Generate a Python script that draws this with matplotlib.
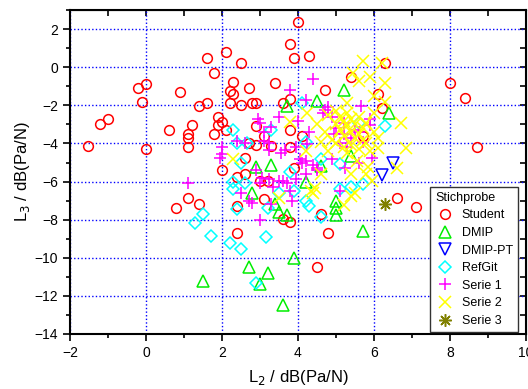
import matplotlib.pyplot as plt
from matplotlib.ticker import MultipleLocator

plt.rcParams['font.family'] = ['Liberation Sans', 'DejaVu Sans']

# Student (red circles)
student_x = [-1.53, -1.21, -1.0, -0.21, 0.0, -0.1, 0.0, 0.9, 0.6, 1.2, 1.1, 1.1, 1.1,
             1.4, 1.6, 1.6, 1.8, 2.1, 2.5, 2.3, 2.2, 2.3, 2.2, 2.7, 2.5, 2.8, 2.9,
             1.9, 2.0, 1.9, 2.1, 1.8, 2.9, 2.9, 2.7, 3.1, 3.3, 2.6, 2.6, 2.4, 2.0,
             3.0, 3.2, 3.1, 3.4, 3.8, 4.0, 3.9, 4.3, 4.7, 3.8, 3.6, 3.8, 4.1, 3.8,
             3.9, 5.4, 6.3, 6.1, 6.2, 5.7, 8.0, 8.4, 8.7, 6.6, 7.1, 3.6, 3.8, 4.6,
             4.8, 4.5, 0.8, 1.1, 1.4, 2.4, 2.4]
student_y = [-4.15, -3.0, -2.7, -1.1, -0.9, -1.8, -4.3, -1.3, -3.3, -3.05, -3.7, -4.2, -3.5,
             -2.05, -1.85, 0.5, -0.3, 0.8, 0.2, -0.75, -1.25, -1.4, -1.85, -1.1, -2.0, -1.9, -1.9,
             -2.6, -2.85, -3.05, -3.3, -3.5, -3.1, -4.1, -3.95, -3.6, -4.15, -4.75, -5.6, -5.75, -5.4,
             -5.95, -5.95, -6.9, -0.85, 1.2, 2.35, 0.5, 0.6, -1.2, -1.65, -1.9, -3.3, -3.6, -4.2,
             -5.3, -0.5, 0.25, -1.4, -2.15, -3.6, -0.85, -1.6, -4.2, -6.85, -7.35, -7.95, -8.1, -7.7,
             -8.7, -10.5, -7.4, -6.85, -7.2, -8.7, -7.3]

# DMIP (green triangles)
dmip_x = [5.2, 4.5, 3.7, 6.4, 5.4, 3.3, 2.9, 4.6, 4.2, 2.8, 5.0, 5.0, 5.0, 3.7, 3.5, 3.4,
          5.7, 3.9, 2.7, 3.2, 3.0, 3.6, 1.5]
dmip_y = [-1.2, -1.75, -2.05, -2.4, -4.65, -5.15, -5.25, -5.2, -6.0, -6.6, -7.0, -7.4, -7.75,
          -7.75, -7.6, -7.2, -8.6, -10.0, -10.5, -10.8, -11.4, -12.5, -11.2]

# DMIP-PT (blue down triangles)
dmippt_x = [6.5, 6.2]
dmippt_y = [-5.0, -5.65]

# RefGit (cyan diamonds)
refgit_x = [2.3, 2.4, 2.65, 2.5, 2.3, 2.6, 2.3, 4.1, 6.3, 5.6, 4.2, 3.3, 5.1, 3.8, 5.7, 3.5,
            3.9, 5.1, 4.2, 4.3, 4.6, 3.15, 1.3, 1.5, 1.7, 2.2, 2.5, 2.4, 2.9, 3.2, 4.6, 5.4]
refgit_y = [-3.3, -3.95, -4.0, -5.0, -6.0, -6.1, -6.4, -1.85, -3.1, -2.9, -3.9, -3.3, -5.1,
            -5.5, -6.15, -6.6, -6.5, -6.4, -7.0, -7.3, -7.85, -8.9, -8.15, -7.7, -8.85, -9.2,
            -9.55, -7.45, -11.3, -7.4, -4.8, -6.3]

# Serie 1 (magenta plus)
serie1_x = [2.95, 2.4, 2.0, 1.95, 2.0, 1.1, 2.5, 4.4, 3.8, 4.2, 4.7, 3.5, 3.3, 4.0, 4.3,
            5.65, 5.9, 5.9, 5.0, 5.2, 3.55, 3.95, 4.25, 4.9, 5.25, 4.5, 4.1, 3.6, 3.95, 5.1,
            3.0, 3.1, 3.1, 2.6, 3.25, 4.8, 4.65, 5.6, 2.9, 3.05, 3.0, 3.25, 3.5, 3.7,
            3.35, 3.8, 2.7, 2.8, 3.0, 3.3, 3.85, 4.05, 4.2, 4.4, 4.5, 5.6, 5.95, 4.2,
            3.25, 3.65, 4.9, 5.2, 5.4, 5.5, 5.1, 5.7, 5.3, 4.95]
serie1_y = [-2.7, -3.85, -4.2, -4.75, -4.55, -6.05, -6.6, -0.6, -1.2, -1.7, -2.25, -2.6,
            -3.15, -2.8, -3.4, -2.05, -2.7, -3.05, -3.2, -2.9, -4.5, -4.2, -4.05, -4.8, -5.3,
            -5.3, -5.0, -5.95, -5.85, -6.5, -2.9, -3.4, -3.85, -3.95, -4.0, -2.1, -2.4,
            -3.4, -5.4, -5.8, -6.05, -5.85, -5.95, -6.05, -6.3, -6.5, -7.0, -7.15, -8.0,
            -7.2, -7.0, -4.8, -4.9, -5.15, -5.4, -5.0, -4.75, -5.6, -4.35, -4.35, -2.6,
            -3.5, -3.7, -3.3, -4.0, -3.9, -4.2, -3.5]

# Serie 2 (yellow x)
serie2_x = [2.3, 3.8, 4.25, 5.7, 6.2, 5.45, 5.9, 6.3, 5.6, 6.0, 6.3, 5.3, 6.7, 6.85, 6.6,
            6.1, 5.8, 5.95, 5.5, 4.35, 4.4, 5.4, 5.2, 3.5, 5.55, 5.85, 4.6, 4.45, 5.4,
            4.8, 5.0, 5.1, 5.2, 5.3, 5.4, 5.5, 5.6, 5.7, 5.8, 5.0, 5.1, 5.2, 5.3, 5.4,
            5.5, 5.6, 5.7, 5.8, 4.9, 5.0, 5.2, 5.4, 5.6, 4.7, 4.6, 6.0, 6.1, 5.9, 5.3,
            4.8, 6.0, 4.5, 4.2]
serie2_y = [-4.8, -2.85, -2.4, 0.35, 0.2, -0.3, -0.5, -0.8, -0.7, -1.5, -1.8, -1.85, -2.9,
            -4.25, -5.3, -4.25, -5.6, -5.95, -6.6, -6.5, -6.6, -6.75, -7.25, -6.85, -4.9,
            -5.25, -5.6, -6.35, -5.6, -2.5, -2.3, -2.6, -2.8, -2.4, -2.7, -3.0, -2.6, -3.2,
            -2.9, -3.0, -3.3, -3.6, -3.1, -3.4, -3.7, -3.5, -3.8, -4.0, -3.8, -4.0, -4.2,
            -4.1, -4.3, -3.4, -3.9, -3.4, -3.7, -4.4, -4.5, -4.4, -2.4, -3.0, -4.4]

# Serie 3 (olive asterisk)
serie3_x = [6.3]
serie3_y = [-7.2]

fig = plt.figure(figsize=(5.28, 3.89), dpi=100)
ax = fig.add_axes([0.1326, 0.1414, 0.8634, 0.8326])

ms = 7
ax.plot(student_x, student_y, 'o', ms=ms, mfc='none', mec='red', mew=1.1, label='Student')
ax.plot(dmip_x, dmip_y, '^', ms=ms + 1, mfc='none', mec='#00ee00', mew=1.1, label='DMIP')
ax.plot(dmippt_x, dmippt_y, 'v', ms=ms + 1, mfc='none', mec='blue', mew=1.1, label='DMIP-PT')
ax.plot(refgit_x, refgit_y, 'D', ms=ms - 1, mfc='none', mec='cyan', mew=1.1, label='RefGit')
ax.plot(serie1_x, serie1_y, '+', ms=ms + 2, mec='magenta', mew=1.1, label='Serie 1')
ax.plot(serie2_x, serie2_y, 'x', ms=ms + 1, mec='yellow', mew=1.1, label='Serie 2')
ax.plot(serie3_x, serie3_y, marker=(8, 2, 0), ls='none', ms=ms + 2, mec='#808000',
        mew=1.1, label='Serie 3')

ax.set_xlim(-2, 10)
ax.set_ylim(-14, 3)
ax.xaxis.set_major_locator(MultipleLocator(2))
ax.xaxis.set_minor_locator(MultipleLocator(1))
ax.yaxis.set_major_locator(MultipleLocator(2))
ax.yaxis.set_minor_locator(MultipleLocator(1))
ax.grid(True, which='major', color='blue', linestyle=(0, (1, 1.6)), linewidth=1.0)
ax.set_axisbelow(True)
ax.tick_params(which='major', direction='out', length=5, width=1.2, labelsize=10)
ax.tick_params(which='minor', direction='out', length=3, width=1.2)
for s in ax.spines.values():
    s.set_linewidth(1.5)

top = ax.secondary_xaxis('top')
top.xaxis.set_major_locator(MultipleLocator(1))
top.tick_params(direction='in', length=4, width=1.2, labeltop=False)
right = ax.secondary_yaxis('right')
right.yaxis.set_major_locator(MultipleLocator(1))
right.tick_params(direction='in', length=4, width=1.2, labelright=False)

ax.set_xlabel('L$_2$ / dB(Pa/N)', fontsize=12, labelpad=6)
ax.set_ylabel('L$_3$ / dB(Pa/N)', fontsize=12, labelpad=2)

leg = ax.legend(title='Stichprobe', loc='lower right', bbox_to_anchor=(0.982, 0.006),
                borderaxespad=0, fontsize=9, title_fontsize=9, fancybox=False,
                edgecolor='#333333', framealpha=1, handletextpad=0.6, labelspacing=0.45,
                borderpad=0.4, handlelength=1.5)
leg._legend_box.align = 'left'
leg.get_frame().set_linewidth(1.0)

fig.savefig('out.png', dpi=100)
